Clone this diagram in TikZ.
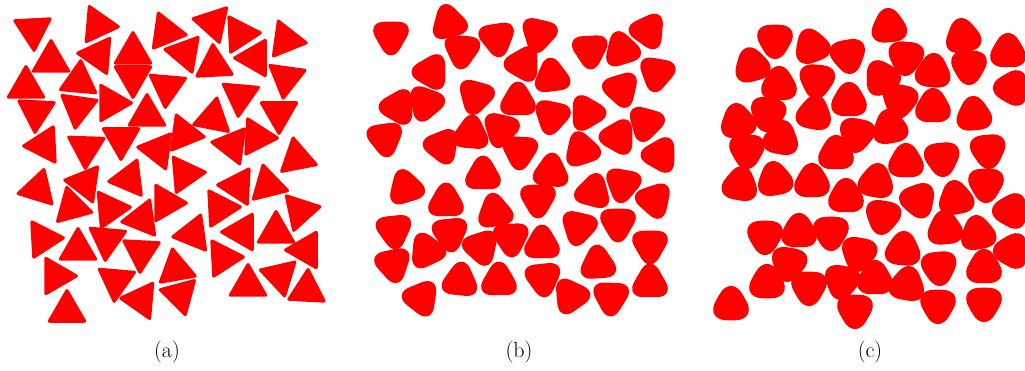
\documentclass[tikz,border=0pt]{standalone}
\usepackage{tikz}

\begin{document}
\begin{tikzpicture}[
		x=1pt, y=-1pt,
		grain/.style={fill=red}, % one particle
		caption/.style={font=\fontsize{22}{26}\selectfont},
	]
	\useasboundingbox (0,0) rectangle (1025,371);

	% --- (a) sharp triangles
	\foreach \x/\y/\a in {33/30/87, 98/25/5, 166/32/8, 213/23/72, 240/34/-3, 286/40/8,
			51/61/30, 98/55/65, 133/53/30, 185/53/70, 214/65/27, 255/58/60, 286/78/98,
			26/87/30, 79/81/35, 133/77/90, 167/87/95, 240/96/95, 36/112/93, 78/108/98,
			111/103/0, 147/115/30, 213/118/41, 279/113/90, 44/145/57, 86/148/92,
			121/139/90, 158/150/68, 184/134/8, 232/145/68, 257/137/3, 297/158/19,
			38/189/47, 85/183/68, 72/207/15, 129/179/53, 185/174/-5, 110/209/-5,
			166/203/0, 142/219/52, 193/234/52, 238/186/63, 268/185/16, 220/208/-3,
			300/211/108, 43/239/-3, 78/249/30, 107/240/95, 141/252/93, 242/232/60,
			276/232/30, 223/258/-3, 306/250/60, 176/269/20, 56/276/0, 116/281/95,
			248/285/30, 280/276/77, 307/290/33, 141/300/65, 180/295/75, 67/311/30}{
			\fill[grain, rounded corners=3pt, shift={(\x,\y)}]
			(\a:23.5) -- (\a+120:23.5) -- (\a+240:23.5) -- cycle;
		}

	% --- (b) rounded triangles
	\foreach \x/\y/\a in {391/36/90, 449/23/15, 462/50/95, 497/38/81, 539/34/103, 590/50/87,
			622/50/13, 648/31/65, 431/72/60, 523/64/60, 552/77/23, 657/73/100,
			398/107/60, 426/103/110, 476/96/105, 518/101/30, 552/116/102, 587/113/0,
			621/89/73, 646/123/105, 385/138/82, 442/146/68, 471/134/35, 501/129/103,
			520/151/93, 582/150/12, 618/137/60, 660/155/60, 483/175/30, 551/172/35,
			406/188/13, 446/202/30, 495/212/20, 538/199/90, 593/192/45, 623/184/100,
			654/200/72, 394/230/84, 450/233/84, 481/247/72, 511/238/87, 542/244/30,
			579/227/103, 618/223/90, 650/245/90, 393/264/78, 427/251/5, 460/281/36,
			499/281/30, 543/278/84, 598/264/26, 571/296/-5, 611/297/92, 650/283/30,
			421/298/68}{
			\fill[grain, rounded corners=18pt, shift={(\x,\y)}]
			(\a:28.5) -- (\a+120:28.5) -- (\a+240:28.5) -- cycle;
		}

	% --- (c) strongly rounded triangles
	\foreach \x/\y/\a in {775/40/90, 812/47/10, 848/55/80, 889/27/25, 963/37/20, 1008/52/30,
			752/66/15, 779/85/30, 817/80/95, 882/78/0, 906/57/95, 933/72/35,
			969/66/90, 1012/88/60, 738/122/20, 768/113/100, 814/114/40, 849/101/30,
			900/100/100, 933/107/30, 974/115/25, 747/150/90, 781/139/40, 857/134/100,
			890/128/20, 836/154/30, 906/162/30, 942/158/85, 988/150/85,
			740/185/40, 775/180/20, 812/182/30, 846/197/30, 876/182/40, 918/200/70,
			956/199/20, 986/184/90, 1011/211/60, 883/216/100, 945/229/25, 978/234/20,
			1012/251/60, 765/236/90, 799/232/30, 831/232/90, 859/253/100, 903/250/35,
			939/267/85, 984/268/30, 789/263/100, 767/283/30, 809/287/90, 842/281/100,
			875/279/30, 907/285/40, 938/305/90, 984/303/90, 731/305/30, 855/310/90}{
			\fill[grain, rounded corners=22.5pt, shift={(\x,\y)}]
			(\a:30.5) -- (\a+120:30.5) -- (\a+240:30.5) -- cycle;
		}

	% --- captions
	\node[caption] (cap-a) at (167,352) {(a)};
	\node[caption] (cap-b) at (519,352) {(b)};
	\node[caption] (cap-c) at (870,352) {(c)};
\end{tikzpicture}
\end{document}
